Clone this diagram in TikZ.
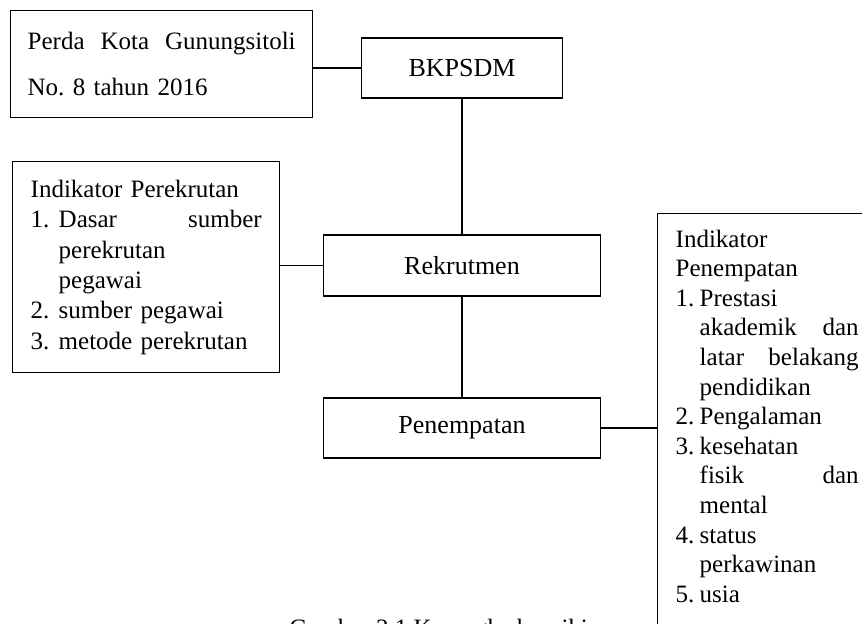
\documentclass[tikz,border=0pt]{standalone}
\usepackage{fontspec}
\setmainfont{Liberation Serif}
\usetikzlibrary{positioning}

\newlength{\hangw}
\newcommand{\itm}[2]{\makebox[\hangw][l]{#1}#2}
\newcommand{\spread}[4]{\makebox[\hangw][l]{#1}\hbox to #2{#3\hfill #4}}

\begin{document}
\begin{tikzpicture}[
  x=0.5pt,y=-0.5pt,
  txt/.style={font=\fontsize{12.5}{14.25}\selectfont},
  box/.style={draw,line width=0.7pt,align=center,inner sep=0pt,font=\fontsize{13}{15}\selectfont},
  listbox/.style={box,align=left,inner xsep=9pt,anchor=north west},
  link/.style={line width=0.7pt}
]
\useasboundingbox (0,0) rectangle (862,624);
\clip (0,0) rectangle (862,624);

\node[box,anchor=north west,align=left,inner xsep=8.5pt,text width=134pt,minimum height=53.5pt,
  font=\fontsize{12.5}{23}\selectfont] (perda) at (10,10)
  {\hbox to 134pt{Perda\hfill Kota\hfill Gunungsitoli}\\No.\ 8 tahun 2016};
\node[box,minimum width=100.5pt,minimum height=30pt] (bkpsdm) at (462,68) {BKPSDM};
\node[box,minimum width=138.5pt,minimum height=30.5pt] (rekrut) at (462,265.5) {Rekrutmen};
\node[box,minimum width=138.5pt,minimum height=30pt] (penem) at (462,428) {Penempatan};

\node[listbox,text width=115.5pt,minimum height=105.5pt,
  font=\fontsize{12.5}{15.2}\selectfont\setlength{\hangw}{14pt}] (rekind) at (12,161)
  {Indikator Perekrutan\\
   \spread{1.}{101.5pt}{Dasar}{sumber}\\
   \itm{}{perekrutan}\\
   \itm{}{pegawai}\\
   \itm{2.}{sumber pegawai}\\
   \itm{3.}{metode perekrutan}};

\node[listbox,text width=93.5pt,inner ysep=8pt,
  font=\fontsize{12.5}{14.8}\selectfont\setlength{\hangw}{12pt}] (penind) at (657,213)
  {Indikator\\
   Penempatan\\
   \itm{1.}{Prestasi}\\
   \spread{}{79.5pt}{akademik}{dan}\\
   \spread{}{79.5pt}{latar}{belakang}\\
   \itm{}{pendidikan}\\
   \itm{2.}{Pengalaman}\\
   \itm{3.}{kesehatan}\\
   \spread{}{79.5pt}{fisik}{dan}\\
   \itm{}{mental}\\
   \itm{4.}{status}\\
   \itm{}{perkawinan}\\
   \itm{5.}{usia}\\[6pt]\mbox{}};

\node[txt,anchor=north west,inner sep=0pt] (caption) at (289,619) {Gambar 2.1 Kerangka berpikir};

\draw[link] (bkpsdm.west) -- (bkpsdm.west -| perda.east);
\foreach \a/\b in {bkpsdm/rekrut,rekrut/penem}
  \draw[link] (\a) -- (\b);
\draw[link] (rekrut.west) -- (rekrut.west -| rekind.east);
\draw[link] (penem.east) -- (penem.east -| penind.west);
\end{tikzpicture}
\end{document}
